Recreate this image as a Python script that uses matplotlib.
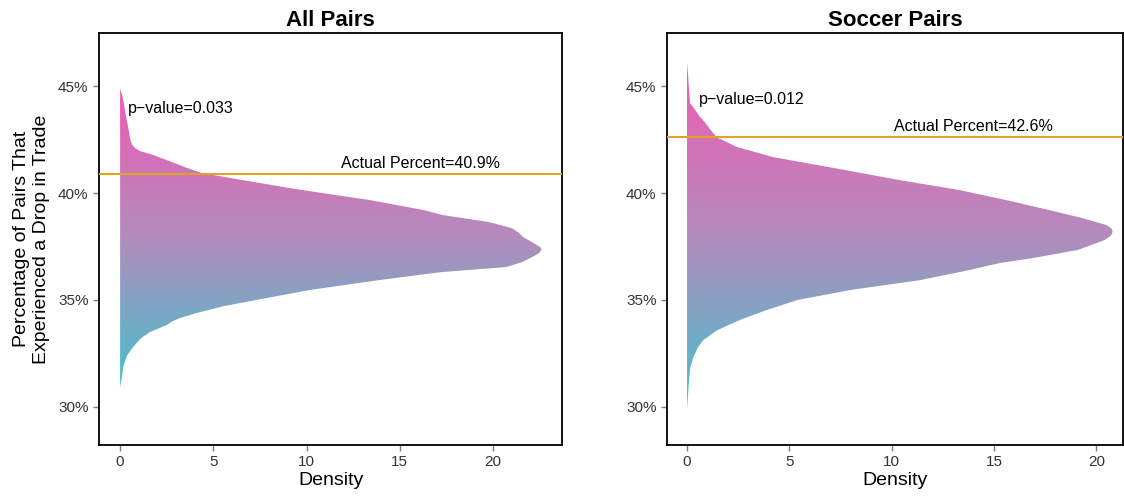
import numpy as np
import matplotlib.pyplot as plt
from matplotlib.colors import LinearSegmentedColormap
from matplotlib.ticker import FuncFormatter

plt.rcParams['font.family'] = ['Liberation Sans', 'DejaVu Sans']

# All Pairs: simulated percentage (%) and density
all_pct = [44.86, 44.6, 44.2, 43.64, 43.0, 42.48, 42.25, 42.1, 41.95, 41.8, 41.54, 41.2, 40.93,
           40.6, 40.23, 39.9, 39.67, 39.2, 38.97, 38.64, 38.36, 38.13, 37.95, 37.8, 37.6,
           37.45, 37.34, 37.22, 37.1, 36.96, 36.75, 36.54, 36.3, 35.93, 35.47, 35.0, 34.7, 34.39,
           34.15, 34.0, 33.83, 33.5, 33.2, 32.8, 32.4, 31.87, 31.4, 30.93]
all_dens = [0.0, 0.1, 0.2, 0.3, 0.45, 0.55, 0.65, 0.8, 1.1, 1.7, 2.5, 3.5, 4.4,
            6.6, 9.1, 11.6, 13.4, 16.3, 17.3, 19.8, 21.0, 21.4, 21.6, 21.9, 22.3,
            22.55, 22.6, 22.5, 22.3, 22.0, 21.5, 20.7, 17.2, 13.9, 10.2, 7.3, 5.5, 4.1,
            3.2, 2.8, 2.5, 1.6, 1.1, 0.7, 0.37, 0.17, 0.1, 0.0]
all_actual = 40.9
all_p = 0.033

# Soccer Pairs
soc_pct = [46.07, 45.5, 44.8, 44.2, 43.88, 43.6, 43.3, 42.95, 42.6, 42.15, 41.68, 41.12,
           40.6, 40.14, 39.67, 39.2, 38.83, 38.5, 38.33, 38.18, 38.0, 37.8, 37.34, 36.96,
           36.73, 36.4, 35.93, 35.47, 35.0, 34.5, 34.07, 33.6, 33.13, 32.8, 32.3, 31.8, 31.0, 29.86]
soc_dens = [0.0, 0.05, 0.1, 0.15, 0.4, 0.6, 0.88, 1.15, 1.46, 2.44, 4.2, 7.46,
            10.4, 13.3, 15.6, 17.7, 19.3, 20.5, 20.75, 20.8, 20.7, 20.4, 19.1, 16.9,
            15.3, 13.8, 11.4, 8.0, 5.4, 3.8, 2.6, 1.5, 0.8, 0.54, 0.3, 0.15, 0.08, 0.0]
soc_actual = 42.6
soc_p = 0.012

cmap = LinearSegmentedColormap.from_list('tp', [(0.0, '#45c2cc'), (0.5, '#b38cbd'), (1.0, '#f05ab4')])


def panel(ax, pct, dens, actual, pval, title, xlim, act_x, p_x, p_y):
    poly = ax.fill_betweenx(pct, 0, dens, facecolor='none', edgecolor='none')
    grad = np.linspace(0, 1, 256).reshape(-1, 1)
    im = ax.imshow(grad, cmap=cmap, origin='lower', aspect='auto',
                   extent=[0, max(dens) + 1, min(pct), max(pct)], zorder=1)
    im.set_clip_path(poly.get_paths()[0], transform=ax.transData)
    ax.axhline(actual, color='#e0a526', lw=1.5, zorder=3)
    ax.text(act_x, actual + 0.15, f'Actual Percent={actual}%', fontsize=11.5, ha='center', va='bottom')
    ax.text(p_x, p_y, f'p\u2212value={pval}', fontsize=11.5, ha='left', va='center')
    ax.set_xlim(*xlim)
    ax.set_ylim(28.22, 47.48)
    ax.set_xticks([0, 5, 10, 15, 20])
    ax.set_yticks([30, 35, 40, 45])
    ax.yaxis.set_major_formatter(FuncFormatter(lambda v, p: f'{v:.0f}%'))
    ax.tick_params(colors='#7f7f7f', labelcolor='#333333', labelsize=11, length=4, width=1)
    for s in ax.spines.values():
        s.set_linewidth(1.3)
    ax.set_title(title, fontsize=16, fontweight='bold', pad=5)
    ax.set_xlabel('Density', fontsize=14, labelpad=2)


fig = plt.figure(figsize=(11.24, 4.97), dpi=100)
ax1 = fig.add_axes([0.0881, 0.1046, 0.4119, 0.829])
ax2 = fig.add_axes([0.5934, 0.1046, 0.4057, 0.829])

panel(ax1, all_pct, all_dens, all_actual, all_p, 'All Pairs', (-1.13, 23.7), 16.1, 0.4, 43.97)
panel(ax2, soc_pct, soc_dens, soc_actual, soc_p, 'Soccer Pairs', (-0.98, 21.3), 14.0, 0.6, 44.39)
ax1.set_ylabel('Percentage of Pairs That\nExperienced a Drop in Trade', fontsize=14, labelpad=6)

fig.savefig('out.png', dpi=100)
